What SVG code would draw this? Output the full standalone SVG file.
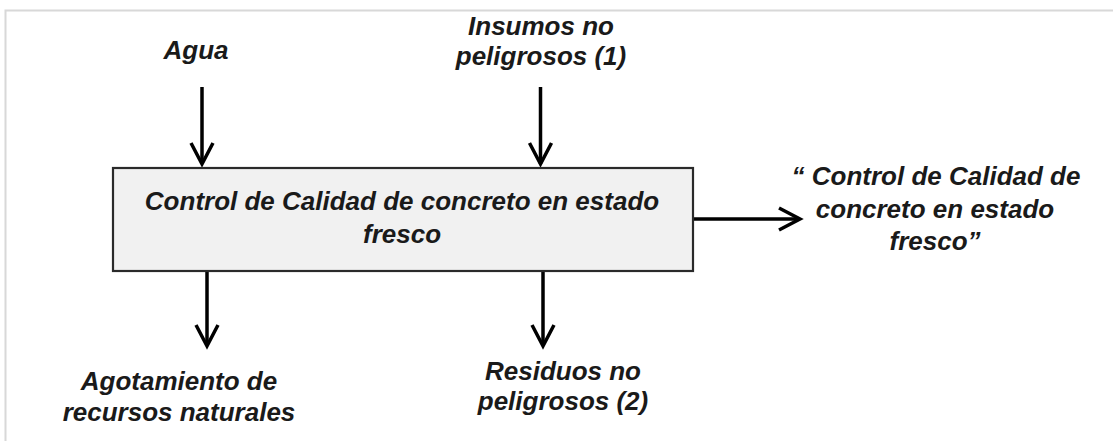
<svg xmlns="http://www.w3.org/2000/svg" width="1113" height="441" viewBox="0 0 1113 441">
<style>
.lbl{font-family:"Liberation Sans",Arial,sans-serif;font-style:italic;font-weight:bold;font-size:26px;fill:#1a1a1a;text-anchor:middle}
.conn{stroke:#000;stroke-width:3.5;fill:none}
.box{fill:#f1f1f1;stroke:#2a2a2a;stroke-width:2.2}
.frame{stroke:#d8d8d8;stroke-width:2;fill:none}
</style>
<defs>
<marker id="arr" markerUnits="userSpaceOnUse" markerWidth="30" markerHeight="30" refX="0" refY="0" orient="auto" viewBox="-24 -15 30 30" overflow="visible">
<path d="M-21,-11 L0,0 L-21,11" fill="none" stroke="#000" stroke-width="3.5" stroke-linejoin="miter"/>
</marker>
</defs>
<rect width="1113" height="441" fill="#fff"/>
<path class="frame" d="M5.5,441 V10.5 H1113"/>
<g id="connectors">
<line class="conn" x1="202" y1="87" x2="202" y2="164" marker-end="url(#arr)"/>
<line class="conn" x1="540.5" y1="87" x2="540.5" y2="164" marker-end="url(#arr)"/>
<line class="conn" x1="207" y1="272" x2="207" y2="346" marker-end="url(#arr)"/>
<line class="conn" x1="543" y1="272" x2="543" y2="346" marker-end="url(#arr)"/>
<line class="conn" x1="693" y1="219" x2="800" y2="219" marker-end="url(#arr)"/>
</g>
<g id="process">
<rect class="box" x="113" y="168" width="580" height="103"/>
<text class="lbl" x="402" y="210">Control de Calidad de concreto en estado</text>
<text class="lbl" x="402" y="243">fresco</text>
</g>
<g id="agua">
<text class="lbl" x="196" y="59">Agua</text>
</g>
<g id="insumos">
<text class="lbl" x="541" y="35">Insumos no</text>
<text class="lbl" x="541" y="65">peligrosos (1)</text>
</g>
<g id="output">
<text class="lbl" x="936" y="185">“ Control de Calidad de</text>
<text class="lbl" x="935" y="218">concreto en estado</text>
<text class="lbl" x="935" y="250">fresco”</text>
</g>
<g id="agotamiento">
<text class="lbl" x="179" y="390">Agotamiento de</text>
<text class="lbl" x="179" y="421">recursos naturales</text>
</g>
<g id="residuos">
<text class="lbl" x="563" y="380">Residuos no</text>
<text class="lbl" x="563" y="410">peligrosos (2)</text>
</g>
</svg>
